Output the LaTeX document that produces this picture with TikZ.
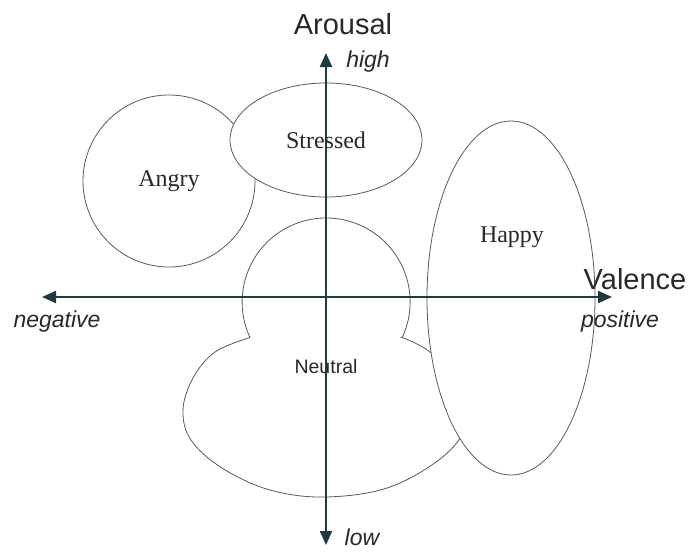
\documentclass[tikz,border=0pt]{standalone}
\usepackage{fontspec}
\setmainfont{Liberation Serif}
\setsansfont{Liberation Sans}
\usetikzlibrary{arrows.meta,shapes.geometric}

\definecolor{axcol}{RGB}{28, 58, 64}
\definecolor{lncol}{RGB}{90, 90, 90}
\definecolor{txcol}{RGB}{40, 40, 40}

\tikzset{
  region/.style={ellipse, draw=lncol, line width=0.8pt, fill=white, inner sep=0pt,
    text=txcol, font=\fontsize{24}{28}\selectfont},
  axis/.style={axcol, line width=2.2pt, {Triangle[length=14pt,width=12pt]}-{Triangle[length=14pt,width=12pt]}},
  axtitle/.style={text=txcol, font=\sffamily\fontsize{29}{32}\selectfont},
  axend/.style={text=txcol, font=\sffamily\itshape\fontsize{23}{26}\selectfont}
}

\begin{document}
\begin{tikzpicture}[x=1pt, y=1pt]
			\useasboundingbox (0,0) rectangle (691,-552);

			% --- Emotion regions ---
			\node[region, minimum width=172pt, minimum height=172pt] (angry) at (169,-181) {Angry};
			\node[region, minimum width=192pt, minimum height=114pt] (stressed) at (326,-140) {Stressed};
			\draw[lncol, line width=0.8pt, fill=white] (250,-337.5) arc[start angle=205, end angle=-25, radius=84]
				-- plot[smooth, tension=0.6] coordinates {(402,-337.5) (430,-352) (460,-385) (468,-420) (445,-455)
				(390,-487) (326,-497) (270,-490) (222,-468) (191,-440) (183,-410) (193,-378) (215,-352) (250,-337.5)} -- cycle;
			\node[text=txcol, font=\sffamily\fontsize{19.5}{22}\selectfont] (neutral) at (326,-367) {Neutral};
			\node[region, minimum width=168pt, minimum height=354pt] (happy) at (511,-298) {};
			\node[text=txcol, font=\fontsize{24}{28}\selectfont] (happylbl) at (512,-237) {Happy};

			% --- Axes ---
			\coordinate (vneg) at (42,-297);
			\coordinate (vpos) at (612,-297);
			\coordinate (ahigh) at (326,-53);
			\coordinate (alow) at (326,-545);
			\draw[axis] (vneg) -- (vpos);
			\draw[axis] (alow) -- (ahigh);

			% axis labels
			\node[axtitle] (arousal) at (343,-24) {Arousal};
			\node[axend] (high) at (368,-62) {high};
			\node[axend] (low) at (362,-537) {low};
			\node[axtitle] (valence) at (635,-279) {Valence};
			\node[axend] (negative) at (57,-322) {negative};
			\node[axend] (positive) at (620,-322) {positive};

		\end{tikzpicture}
\end{document}
